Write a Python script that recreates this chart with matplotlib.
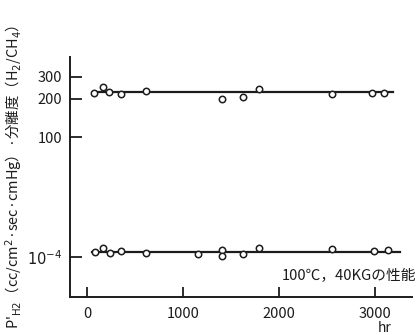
import numpy as np
import matplotlib
matplotlib.use("Agg")
from matplotlib import pyplot as plt
from matplotlib.ticker import FixedLocator, NullLocator, FixedFormatter

plt.rcParams['font.family'] = ['Noto Sans CJK JP', 'DejaVu Sans']
plt.rcParams['axes.unicode_minus'] = True

# 分離度 H2/CH4
hours_sep = [76, 170, 229, 351, 615, 1403, 1622, 1792, 2549, 2972, 3094]
sep_factor = [222, 250, 226, 219, 231, 199, 208, 240, 219, 222, 224]
sep_line_span = [76, 3190]
sep_line_level = 227

# 透過速度 P'H2
hours_perm = [83, 170, 240, 354, 615, 1153, 1403, 1403, 1622, 1792, 2549, 2990, 3139]
perm_h2 = [1.09e-4, 1.18e-4, 1.08e-4, 1.115e-4, 1.07e-4, 1.056e-4, 1.135e-4,
           1.024e-4, 1.056e-4, 1.171e-4, 1.156e-4, 1.121e-4, 1.135e-4]
perm_line_span = [52, 3260]
perm_line_level = 1.10e-4

x_ticks = [0, 1000, 2000, 3000]
sep_ticks = [100, 200, 300]
perm_ticks = [1e-4]

ink = '#1c1c1c'

fig = plt.figure(figsize=(4.17, 3.35), dpi=100)
ax = fig.add_axes([70 / 417, 38 / 335, 342 / 417, 240 / 335])
ax2 = ax.twinx()

# 上段：分離度（対数）
ax.set_yscale('log')
ax.set_ylim(5.52, 428)
ax.set_xlim(-177, 3385)
ax.plot(sep_line_span, [sep_line_level] * 2, color=ink, lw=1.6, zorder=2)
ax.plot(hours_sep, sep_factor, 'o', ms=4.6, mfc='white', mec=ink, mew=1.1, zorder=3)

# 下段：透過速度（対数）
ax2.set_yscale('log')
ax2.set_ylim(0.484e-4, 37.6e-4)
ax2.plot(perm_line_span, [perm_line_level] * 2, color=ink, lw=1.6, zorder=2)
ax2.plot(hours_perm, perm_h2, 'o', ms=4.6, mfc='white', mec=ink, mew=1.1, zorder=3)

for a in (ax, ax2):
    for s in ('top', 'right'):
        a.spines[s].set_visible(False)
    a.yaxis.set_minor_locator(NullLocator())
ax2.spines['left'].set_visible(False)
ax2.spines['bottom'].set_visible(False)
ax.spines['left'].set_linewidth(1.4)
ax.spines['bottom'].set_linewidth(1.4)
ax.spines['left'].set_color(ink)
ax.spines['bottom'].set_color(ink)

ax.xaxis.set_major_locator(FixedLocator(x_ticks))
ax.tick_params(axis='x', direction='in', length=7.5, width=1.3, pad=7,
               labelsize=10.5, colors=ink)

ax.yaxis.set_major_locator(FixedLocator(sep_ticks))
ax.yaxis.set_major_formatter(FixedFormatter([str(t) for t in sep_ticks]))
ax.tick_params(axis='y', direction='in', length=8.5, width=1.3, pad=5.5,
               labelsize=10.5, colors=ink)

ax2.yaxis.set_ticks_position('left')
ax2.yaxis.set_major_locator(FixedLocator(perm_ticks))
ax2.yaxis.set_major_formatter(FixedFormatter([r'$10^{-4}$']))
ax2.tick_params(axis='y', direction='in', length=8.5, width=1.3, pad=5.5,
                labelsize=10.5, colors=ink, left=True, right=False,
                labelleft=True, labelright=False)

ax.set_ylabel("P'$_{\\mathrm{H2}}$（cc/cm$^{2}$·sec·cmHg）·分離度（H$_{2}$/CH$_{4}$）",
              fontsize=10.4, color=ink, va='center')
ax.yaxis.set_label_coords(-0.164, 0.5)

ax.text(0.62, 0.092, '100℃，40KGの性能', transform=ax.transAxes,
        fontsize=10.6, color=ink, va='center', ha='left', clip_on=False)
ax.text(0.921, -0.128, 'hr', transform=ax.transAxes,
        fontsize=10, color=ink, va='center', ha='center', clip_on=False)

fig.savefig('out.png', dpi=100, facecolor='white')
